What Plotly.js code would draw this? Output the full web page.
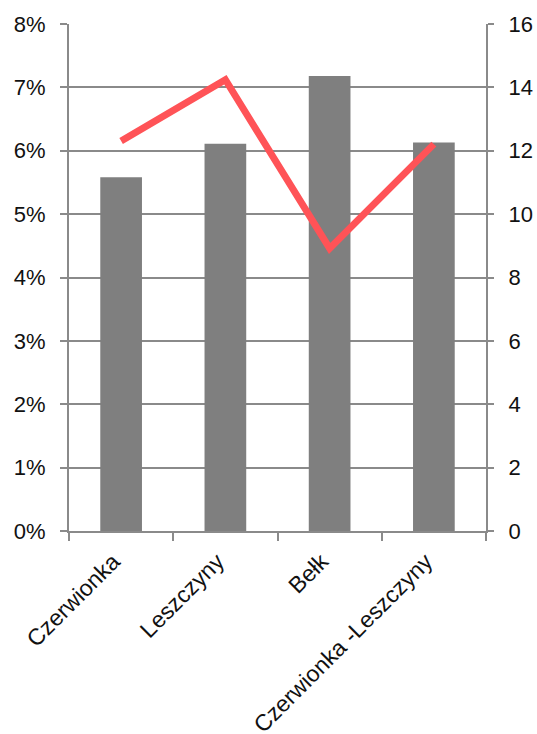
<!DOCTYPE html>
<html>
<head>
<meta charset="utf-8">
<script src="https://cdn.plot.ly/plotly-3.0.1.min.js"></script>
<style>html,body{margin:0;padding:0;background:#fff;}#chart{width:537px;height:734px;}</style>
</head>
<body>
<div id="chart"></div>
<script>
const categories = ["Czerwionka", "Leszczyny", "Bełk", "Czerwionka -Leszczyny"];
const barValues = [0.0558, 0.0611, 0.0718, 0.0613];
const lineValues = [12.31, 14.24, 8.92, 12.21];
const leftTicks = [0, 0.01, 0.02, 0.03, 0.04, 0.05, 0.06, 0.07, 0.08];
const rightTicks = [0, 2, 4, 6, 8, 10, 12, 14, 16];

const fam = "Liberation Sans, Arial, sans-serif";
const font = {family: fam, size: 22, color: "#111"};
const xfont = {family: fam, size: 23, color: "#111"};
const gridColor = "#8a8a8a";

const data = [
  {type: "bar", x: categories, y: barValues, marker: {color: "#7f7f7f"}, yaxis: "y", hoverinfo: "none"},
  {type: "scatter", mode: "lines", x: categories, y: lineValues, yaxis: "y2",
   line: {color: "#ff5357", width: 7}, hoverinfo: "none"}
];

const layout = {
  width: 537, height: 734,
  margin: {l: 69, r: 51, t: 24, b: 203},
  paper_bgcolor: "#fff", plot_bgcolor: "#fff",
  showlegend: false,
  bargap: 0.6,
  font: font,
  xaxis: {
    type: "category",
    tickangle: -45,
    tickson: "boundaries",
    ticks: "outside", ticklen: 8, tickwidth: 2, tickcolor: gridColor,
    showline: true, linecolor: gridColor, linewidth: 2,
    showgrid: false, zeroline: false,
    ticklabelstandoff: 6,
    ticklabelshift: -8,
    tickfont: xfont
  },
  yaxis: {
    range: [0, 0.08],
    tickvals: leftTicks,
    tickformat: ".0%",
    ticks: "outside", ticklen: 7, tickwidth: 2, tickcolor: gridColor,
    showline: true, linecolor: gridColor, linewidth: 2,
    showgrid: true, gridcolor: gridColor, gridwidth: 2,
    zeroline: false,
    ticklabelstandoff: 10,
    tickfont: font
  },
  yaxis2: {
    range: [0, 16],
    tickvals: rightTicks,
    overlaying: "y", side: "right",
    ticks: "outside", ticklen: 6, tickwidth: 2, tickcolor: gridColor,
    showline: true, linecolor: gridColor, linewidth: 2,
    showgrid: false, zeroline: false,
    ticklabelstandoff: 10,
    tickfont: font
  }
};

Plotly.newPlot("chart", data, layout, {staticPlot: true});
</script>
</body>
</html>
